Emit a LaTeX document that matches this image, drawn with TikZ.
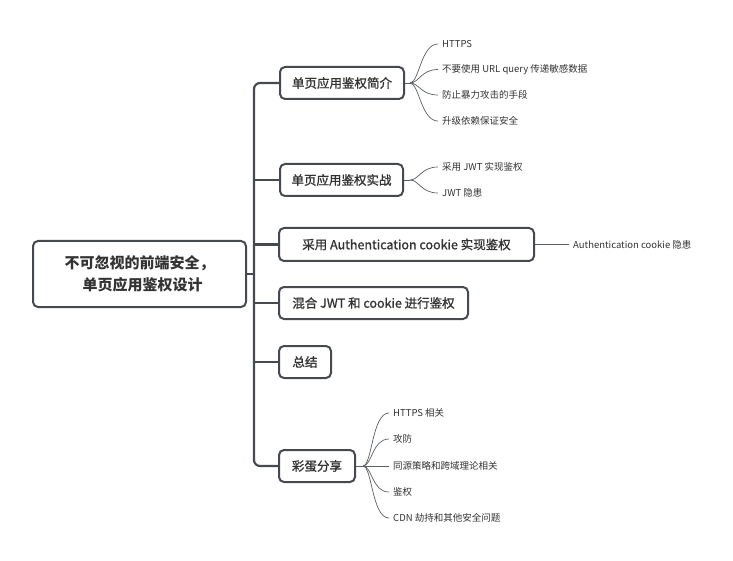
\documentclass[tikz,border=0pt]{standalone}
\usepackage{fontspec}
\setmainfont{Noto Sans CJK SC}
\newfontfamily\medfont{Noto Sans CJK SC}[FakeBold=1.2]
\definecolor{edgec}{HTML}{454A50}
\definecolor{txtc}{HTML}{333333}
\definecolor{thin}{HTML}{5A5F64}
\tikzset{
  rootbox/.style={draw=edgec, line width=2pt, rounded corners=5pt, inner sep=0pt, align=center,
    text=txtc, font=\fontsize{15}{22}\selectfont\bfseries},
  branchbox/.style={draw=edgec, line width=2pt, rounded corners=5pt, inner sep=0pt,
    text=txtc, font=\fontsize{12.5}{15}\medfont, minimum height=32pt},
  leaf/.style={anchor=west, inner xsep=4pt, inner ysep=1pt, text=txtc, font=\fontsize{9.5}{11}\selectfont},
  trunk/.style={draw=edgec, line width=2.2pt, rounded corners=6pt},
  twig/.style={draw=thin, line width=0.7pt},
}
\begin{document}
\begin{tikzpicture}[x=1pt,y=-1pt]
\useasboundingbox (0,0) rectangle (733,561);
% root
\node[rootbox, minimum width=213pt, minimum height=66pt] (root) at (139.5,274) {不可忽视的前端安全，\\\hspace*{6pt}单页应用鉴权设计};
% branches
\node[branchbox, minimum width=124pt] (b1) at (342,83) {单页应用鉴权简介};
\node[branchbox, minimum width=123pt] (b2) at (341.5,180) {单页应用鉴权实战};
\node[branchbox, minimum width=255pt, minimum height=33pt] (b3) at (406.5,244.5) {采用 Authentication cookie 实现鉴权};
\node[branchbox, minimum width=189pt] (b4) at (373.5,303) {混合 JWT 和 cookie 进行鉴权};
\node[branchbox, minimum width=52pt] (b5) at (305,362) {总结};
\node[branchbox, minimum width=76pt] (b6) at (317,466) {彩蛋分享};
% trunk
\coordinate (tr) at (254,274);
\draw[trunk] (b1.west) -- (b1.west -| tr) -- (b6.west -| tr) -- (b6.west);
\draw[trunk] (root.east) -- (root.east -| tr);
\draw[trunk] (b2.west -| tr) -- (b2.west);
\draw[trunk] (b3.west -| tr) -- (b3.west);
\draw[trunk] (b4.west -| tr) -- (b4.west);
\draw[trunk] (b5.west -| tr) -- (b5.west);
% leaves b1
\coordinate (o1) at (410,83);
\node[leaf] (l11) at (438,44) {HTTPS};
\node[leaf] (l12) at (438,69.5) {不要使用 URL query 传递敏感数据};
\node[leaf] (l13) at (438,95) {防止暴力攻击的手段};
\node[leaf] (l14) at (438,121) {升级依赖保证安全};
\draw[twig] (b1.east) -- (o1);
\foreach \l in {l11,l12,l13,l14}
  \draw[twig] (o1) .. controls +(9,0) and +(-17,0) .. (\l.west);
% leaves b2
\coordinate (o2) at (410,180);
\node[leaf] (l21) at (438,167) {采用 JWT 实现鉴权};
\node[leaf] (l22) at (438,193) {JWT 隐患};
\draw[twig] (b2.east) -- (o2);
\foreach \l in {l21,l22}
  \draw[twig] (o2) .. controls +(9,0) and +(-17,0) .. (\l.west);
% leaf b3
\node[leaf] (l31) at (569,244.5) {Authentication cookie 隐患};
\draw[twig] (b3.east) -- (l31.west);
% leaves b6
\coordinate (o6) at (363,466);
\node[leaf] (l61) at (389,413) {HTTPS 相关};
\node[leaf] (l62) at (389,439) {攻防};
\node[leaf] (l63) at (389,466) {同源策略和跨域理论相关};
\node[leaf] (l64) at (389,492) {鉴权};
\node[leaf] (l65) at (389,518) {CDN 劫持和其他安全问题};
\draw[twig] (b6.east) -- (o6);
\foreach \l in {l61,l62,l64,l65}
  \draw[twig] (o6) .. controls +(9,0) and +(-17,0) .. (\l.west);
\draw[twig] (o6) -- (l63.west);
\end{tikzpicture}
\end{document}
